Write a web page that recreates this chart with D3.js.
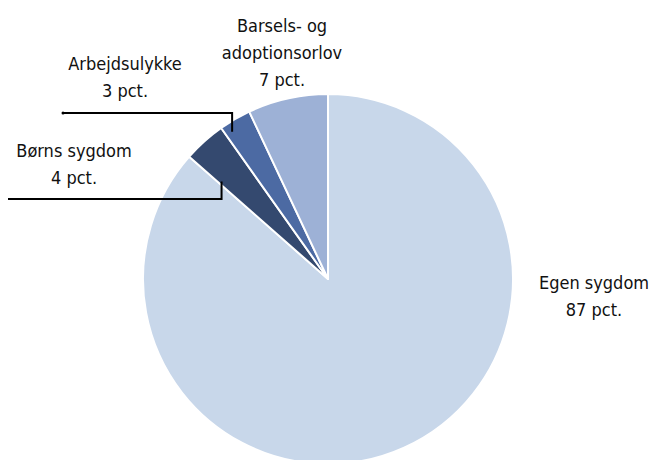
<!DOCTYPE html>
<meta charset="utf-8">
<style>
  body { margin: 0; background: #fff; }
  .labels text {
    font-family: "DejaVu Sans Condensed", "Liberation Sans", Arial, sans-serif;
    font-size: 18px;
    fill: #111;
  }
  .leaders path {
    fill: none;
    stroke: #000;
    stroke-width: 2px;
  }
</style>
<svg width="654" height="460"></svg>
<script src="https://d3js.org/d3.v7.min.js"></script>
<script>

    // data
    var categories = ["Egen sygdom", "Børns sygdom", "Arbejdsulykke", "Barsels- og adoptionsorlov"];
    var values = [86.5, 3.7, 2.8, 7.0];
    var colors = ["#c8d7ea", "#34496f", "#4c6aa3", "#9db1d6"];

    // label lines (text broken over lines) and their placement
    var labelLines = [["Egen sygdom"], ["Børns sygdom"], ["Arbejdsulykke"], ["Barsels- og", "adoptionsorlov"]];
    var labelPos = [[594, 289], [74, 157], [125, 70], [282, 32]];
    // leader: fraction along slice, radius fraction, elbow y, end x, end dot
    var leaders = [null, [0.08, 0.78, 199, 8, false], [0.22, 0.95, 113, 62, true], null];

    var svg = d3.select("svg"),
        cx = 328, cy = 279, radius = 185;

    var data = categories.map(function(c, i) { return {name: c, value: values[i], i: i}; });

    var pie = d3.pie().sort(null).value(function(d) { return d.value; });
    var arc = d3.arc().innerRadius(0).outerRadius(radius);

    var arcs = pie(data);

    var g = svg.append("g").attr("transform", "translate(" + cx + "," + cy + ")");

    g.selectAll("path")
        .data(arcs)
        .enter().append("path")
        .attr("d", arc)
        .attr("fill", function(d) { return colors[d.data.i]; })
        .attr("stroke", "#fff")
        .attr("stroke-width", 2)
        .attr("stroke-linejoin", "round");

    // leader lines
    var lg = svg.append("g").attr("class", "leaders");
    arcs.forEach(function(d) {
        var l = leaders[d.data.i];
        if (!l) return;
        var a = d.startAngle + l[0] * (d.endAngle - d.startAngle);
        var r = l[1] * radius;
        var ax = cx + r * Math.sin(a), ay = cy - r * Math.cos(a);
        lg.append("path").attr("d", d3.line()([[ax, ay], [ax, l[2]], [l[3], l[2]]]));
        if (l[4]) lg.append("circle").attr("cx", l[3] + 1).attr("cy", l[2]).attr("r", 1.5).attr("fill", "#000");
    });

    // labels
    var tg = svg.append("g").attr("class", "labels");
    arcs.forEach(function(d) {
        var i = d.data.i;
        var lines = labelLines[i].concat([Math.round(d.data.value) + " pct."]);
        var t = tg.append("text")
            .attr("text-anchor", "middle")
            .attr("x", labelPos[i][0])
            .attr("y", labelPos[i][1]);
        lines.forEach(function(s, k) {
            t.append("tspan")
                .attr("x", labelPos[i][0])
                .attr("dy", k === 0 ? 0 : 27)
                .text(s);
        });
    });

</script>
